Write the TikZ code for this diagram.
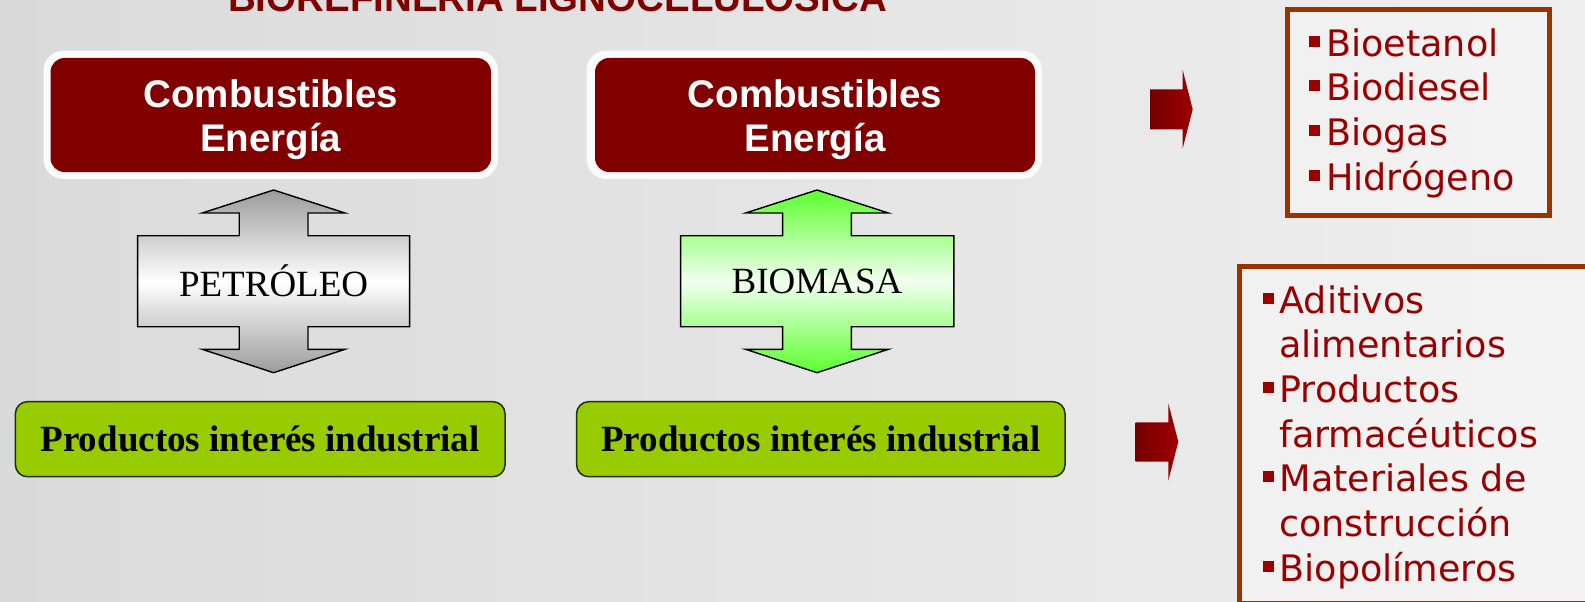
\documentclass[tikz,border=0pt]{standalone}
\usepackage{fontspec}
\setmainfont{Liberation Serif}
\newfontfamily\arialfont{Liberation Sans}
\newfontfamily\verdfont{DejaVu Sans}
\definecolor{cred}{HTML}{800000}
\definecolor{listred}{HTML}{990000}
\definecolor{boxbrown}{HTML}{993300}
\definecolor{prodgreen}{HTML}{99CC00}
\definecolor{prodedge}{HTML}{1A3300}
\definecolor{bgleft}{HTML}{DADADA}
\definecolor{bgright}{HTML}{EFEFEF}
\definecolor{arrgray}{HTML}{9C9C9C}
\definecolor{arrgreen}{HTML}{5CFF2E}
\definecolor{palegreen}{HTML}{F2FFF0}
\newcommand{\sqbul}{\textcolor{listred}{\rule[9.5pt]{11pt}{11pt}}\hspace{6pt}}
\begin{document}
\begin{tikzpicture}[x=1pt,y=-1pt,
  outerbox/.style={fill=white!97!gray, rounded corners=20pt},
  combox/.style={rectangle, rounded corners=14pt, fill=cred, inner sep=0pt},
  comtext/.style={anchor=base, inner sep=0pt, text=white,
    font=\arialfont\bfseries\fontsize{38.5}{44.4}\selectfont},
  dblarrow/.style={draw=black, line width=1.4pt, line join=miter},
  srclabel/.style={font=\fontsize{37}{40}\selectfont, inner sep=0pt},
  prodbox/.style={rectangle, rounded corners=12pt, fill=prodgreen, draw=prodedge, line width=1.5pt,
    font=\bfseries\fontsize{37}{40}\selectfont, inner sep=0pt, minimum height=75pt},
  redarrow/.style={left color=cred!90!black, right color=listred!95!red},
  listbox/.style={rectangle, draw=boxbrown, line width=5pt, fill=white, fill opacity=0.3, inner sep=0pt},
  item/.style={anchor=base west, inner sep=0pt, text=listred, font=\verdfont\fontsize{36.5}{44.5}\selectfont},
  titlestyle/.style={anchor=base, inner sep=0pt, text=cred, font=\arialfont\bfseries\fontsize{38.5}{40}\selectfont}
]
\useasboundingbox (0,0) rectangle (1585,602);
\clip (0,0) rectangle (1585,602);
% background
\shade[left color=bgleft, right color=bgright] (0,0) rectangle (1585,602);

% title (cut by the top edge)
\node[titlestyle] (title) at (557.5,12) {BIOREFINERÍA LIGNOCELULÓSICA};

% top boxes
\path[outerbox] (43.5,50.7) rectangle (498,179);
\path[outerbox] (586.5,50.7) rectangle (1042,179);
\node[combox, minimum width=440.5pt, minimum height=114pt] (c1) at (270.75,115) {};
\node[combox, minimum width=440pt, minimum height=114pt] (c2) at (815,115) {};
\node[comtext] (c1a) at (270.75,107.3) {Combustibles};
\node[comtext] (c1b) at (270.75,151.7) {Energía};
\node[comtext] (c2a) at (815,107.3) {Combustibles};
\node[comtext] (c2b) at (815,151.7) {Energía};

% double arrows
\path[dblarrow, top color=arrgray, bottom color=arrgray, middle color=white]
  (273.6,190) -- (345,213) -- (308,213) -- (308,235.7) -- (409.6,235.7) -- (409.6,326.7)
  -- (308,326.7) -- (308,349.3) -- (345,349.3) -- (273.6,372.7) -- (202.2,349.3)
  -- (239.2,349.3) -- (239.2,326.7) -- (137.6,326.7) -- (137.6,235.7) -- (239.2,235.7)
  -- (239.2,213) -- (202.2,213) -- cycle;
\path[dblarrow, top color=arrgreen, bottom color=arrgreen, middle color=palegreen]
  (817,190) -- (888.4,213) -- (851.4,213) -- (851.4,235.7) -- (953.8,235.7) -- (953.8,326.7)
  -- (851.4,326.7) -- (851.4,349.3) -- (888.4,349.3) -- (817,372.7) -- (745.6,349.3)
  -- (782.6,349.3) -- (782.6,326.7) -- (680.6,326.7) -- (680.6,235.7) -- (782.6,235.7)
  -- (782.6,213) -- (745.6,213) -- cycle;
\node[srclabel] (pet) at (273.6,281) {PETRÓLEO};
\node[srclabel] (bio) at (817,281) {BIOMASA};

% bottom boxes
\node[prodbox, minimum width=489.6pt] (g1) at (260.2,439.2) {Productos interés industrial};
\node[prodbox, minimum width=488.4pt] (g2) at (820.8,439.2) {Productos interés industrial};

% red block arrows
\path[redarrow] (1150,89.3) -- (1182.7,89.3) -- (1182.7,70) -- (1192.7,109.3)
  -- (1182.7,148.3) -- (1182.7,129.3) -- (1150,129.3) -- cycle;
\path[redarrow] (1135.7,422.3) -- (1168.3,422.3) -- (1168.3,403.3) -- (1178.3,441.7)
  -- (1168.3,480.7) -- (1168.3,461.7) -- (1135.7,461.7) -- cycle;

% list boxes
\node[listbox, anchor=north west, minimum width=261.7pt, minimum height=206.6pt] (l1) at (1285,6.7) {};
\node[listbox, anchor=north west, minimum width=380pt, minimum height=336.5pt] (l2) at (1237.3,264) {};

\node[item] (i11) at (1309,56.7) {\sqbul Bioetanol};
\node[item] (i12) at (1309,100.7) {\sqbul Biodiesel};
\node[item] (i13) at (1309,145.7) {\sqbul Biogas};
\node[item] (i14) at (1309,190) {\sqbul Hidrógeno};

\node[item] (i21) at (1262.3,313.3) {\sqbul Aditivos};
\node[item] (i22) at (1279,357.7) {alimentarios};
\node[item] (i23) at (1262.3,402.7) {\sqbul Productos};
\node[item] (i24) at (1279,447.3) {farmacéuticos};
\node[item] (i25) at (1262.3,491.7) {\sqbul Materiales de};
\node[item] (i26) at (1279,536) {construcción};
\node[item] (i27) at (1262.3,581) {\sqbul Biopolímeros};
\end{tikzpicture}
\end{document}
